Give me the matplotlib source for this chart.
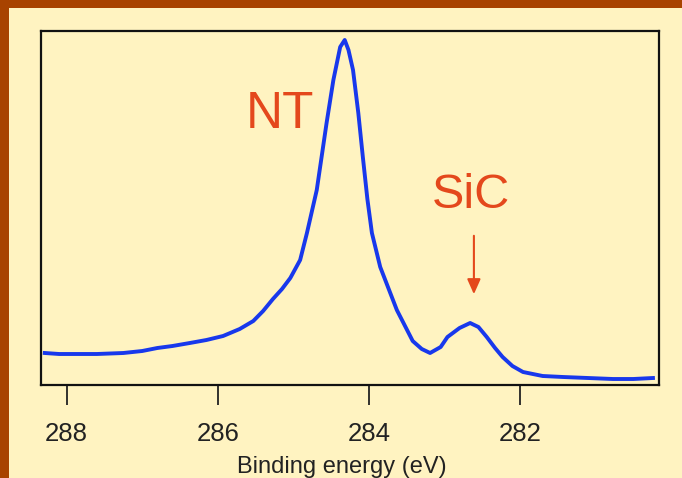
import matplotlib
matplotlib.use("Agg")
import matplotlib.pyplot as plt
from matplotlib.patches import Rectangle

# Data (binding energy in eV, intensity in arbitrary units)
energy = [288.29, 288.10, 287.92, 287.60, 287.25, 287.00, 286.80, 286.60, 286.37,
          286.15, 285.93, 285.71, 285.53, 285.40, 285.27, 285.15, 285.04, 284.91, 284.82,
          284.69, 284.56, 284.47, 284.38, 284.32, 284.27, 284.21, 284.14, 284.08,
          284.02, 283.96, 283.85, 283.63, 283.42, 283.30, 283.19, 283.05, 282.96, 282.80,
          282.66, 282.55, 282.44, 282.33, 282.23, 282.10, 281.96, 281.70, 281.43, 281.10,
          280.77, 280.50, 280.24]
intensity = [32, 31, 31, 31, 32, 34, 37, 39, 42,
             45, 49, 56, 64, 74, 86, 96, 107, 125, 152,
             195, 262, 305, 338, 345, 335, 315, 272, 228,
             186, 152, 118, 75, 44, 36, 32, 38, 48, 57,
             62, 58, 48, 37, 28, 19, 13, 9, 8, 7,
             6, 6, 7]

xticks = [288, 286, 284, 282]
xtick_labels = ["288", "286", "284", "282"]
xlabel = "Binding energy (eV)"
peak_labels = ["NT", "SiC"]

W, H = 682, 478
BROWN = "#A84300"
PANEL = "#FFF3C1"
BLUE = "#1838EC"
RED = "#E4481C"

fig = plt.figure(figsize=(W / 100, H / 100), dpi=100)
fig.patch.set_facecolor(BROWN)
fig.patches.append(Rectangle((9 / W, 0), 1 - 9 / W, 1 - 8 / H,
                             transform=fig.transFigure, facecolor=PANEL,
                             edgecolor="none", zorder=-10))

ax = fig.add_axes([41 / W, (H - 385) / H, 618 / W, 354 / H])
ax.set_zorder(5)
ax.set_facecolor(PANEL)
ax.plot(energy, intensity, color=BLUE, lw=2.8, solid_joinstyle="round")

ax.set_xlim(288.34, 280.16)
ax.set_ylim(0, 354)
ax.set_yticks([])
ax.set_xticks(xticks)
ax.set_xticklabels(xtick_labels, fontsize=18.5, family="Liberation Sans", color="#222222")
ax.tick_params(axis="x", direction="out", length=14.5, width=1.3, pad=12, color="#222222")
for s in ax.spines.values():
    s.set_linewidth(1.6)
    s.set_color("#111111")

fig.text(342 / W, (H - 473) / H, xlabel, ha="center", va="baseline",
         fontsize=17, family="Liberation Sans", color="#222222", zorder=6)

# Peak labels
ax.text(285.18, 385 - 114, peak_labels[0], ha="center", va="center",
        fontsize=37, family="Liberation Sans", color=RED)
ax.text(282.65, 385 - 195, peak_labels[1], ha="center", va="center",
        fontsize=35, family="Liberation Sans", color=RED)
ax.annotate("", xy=(282.61, 385 - 297), xytext=(282.61, 385 - 233),
            arrowprops=dict(arrowstyle="-|>,head_length=0.9,head_width=0.4",
                            color=RED, lw=1.5))

fig.savefig("out.png", dpi=100, facecolor=fig.get_facecolor())
